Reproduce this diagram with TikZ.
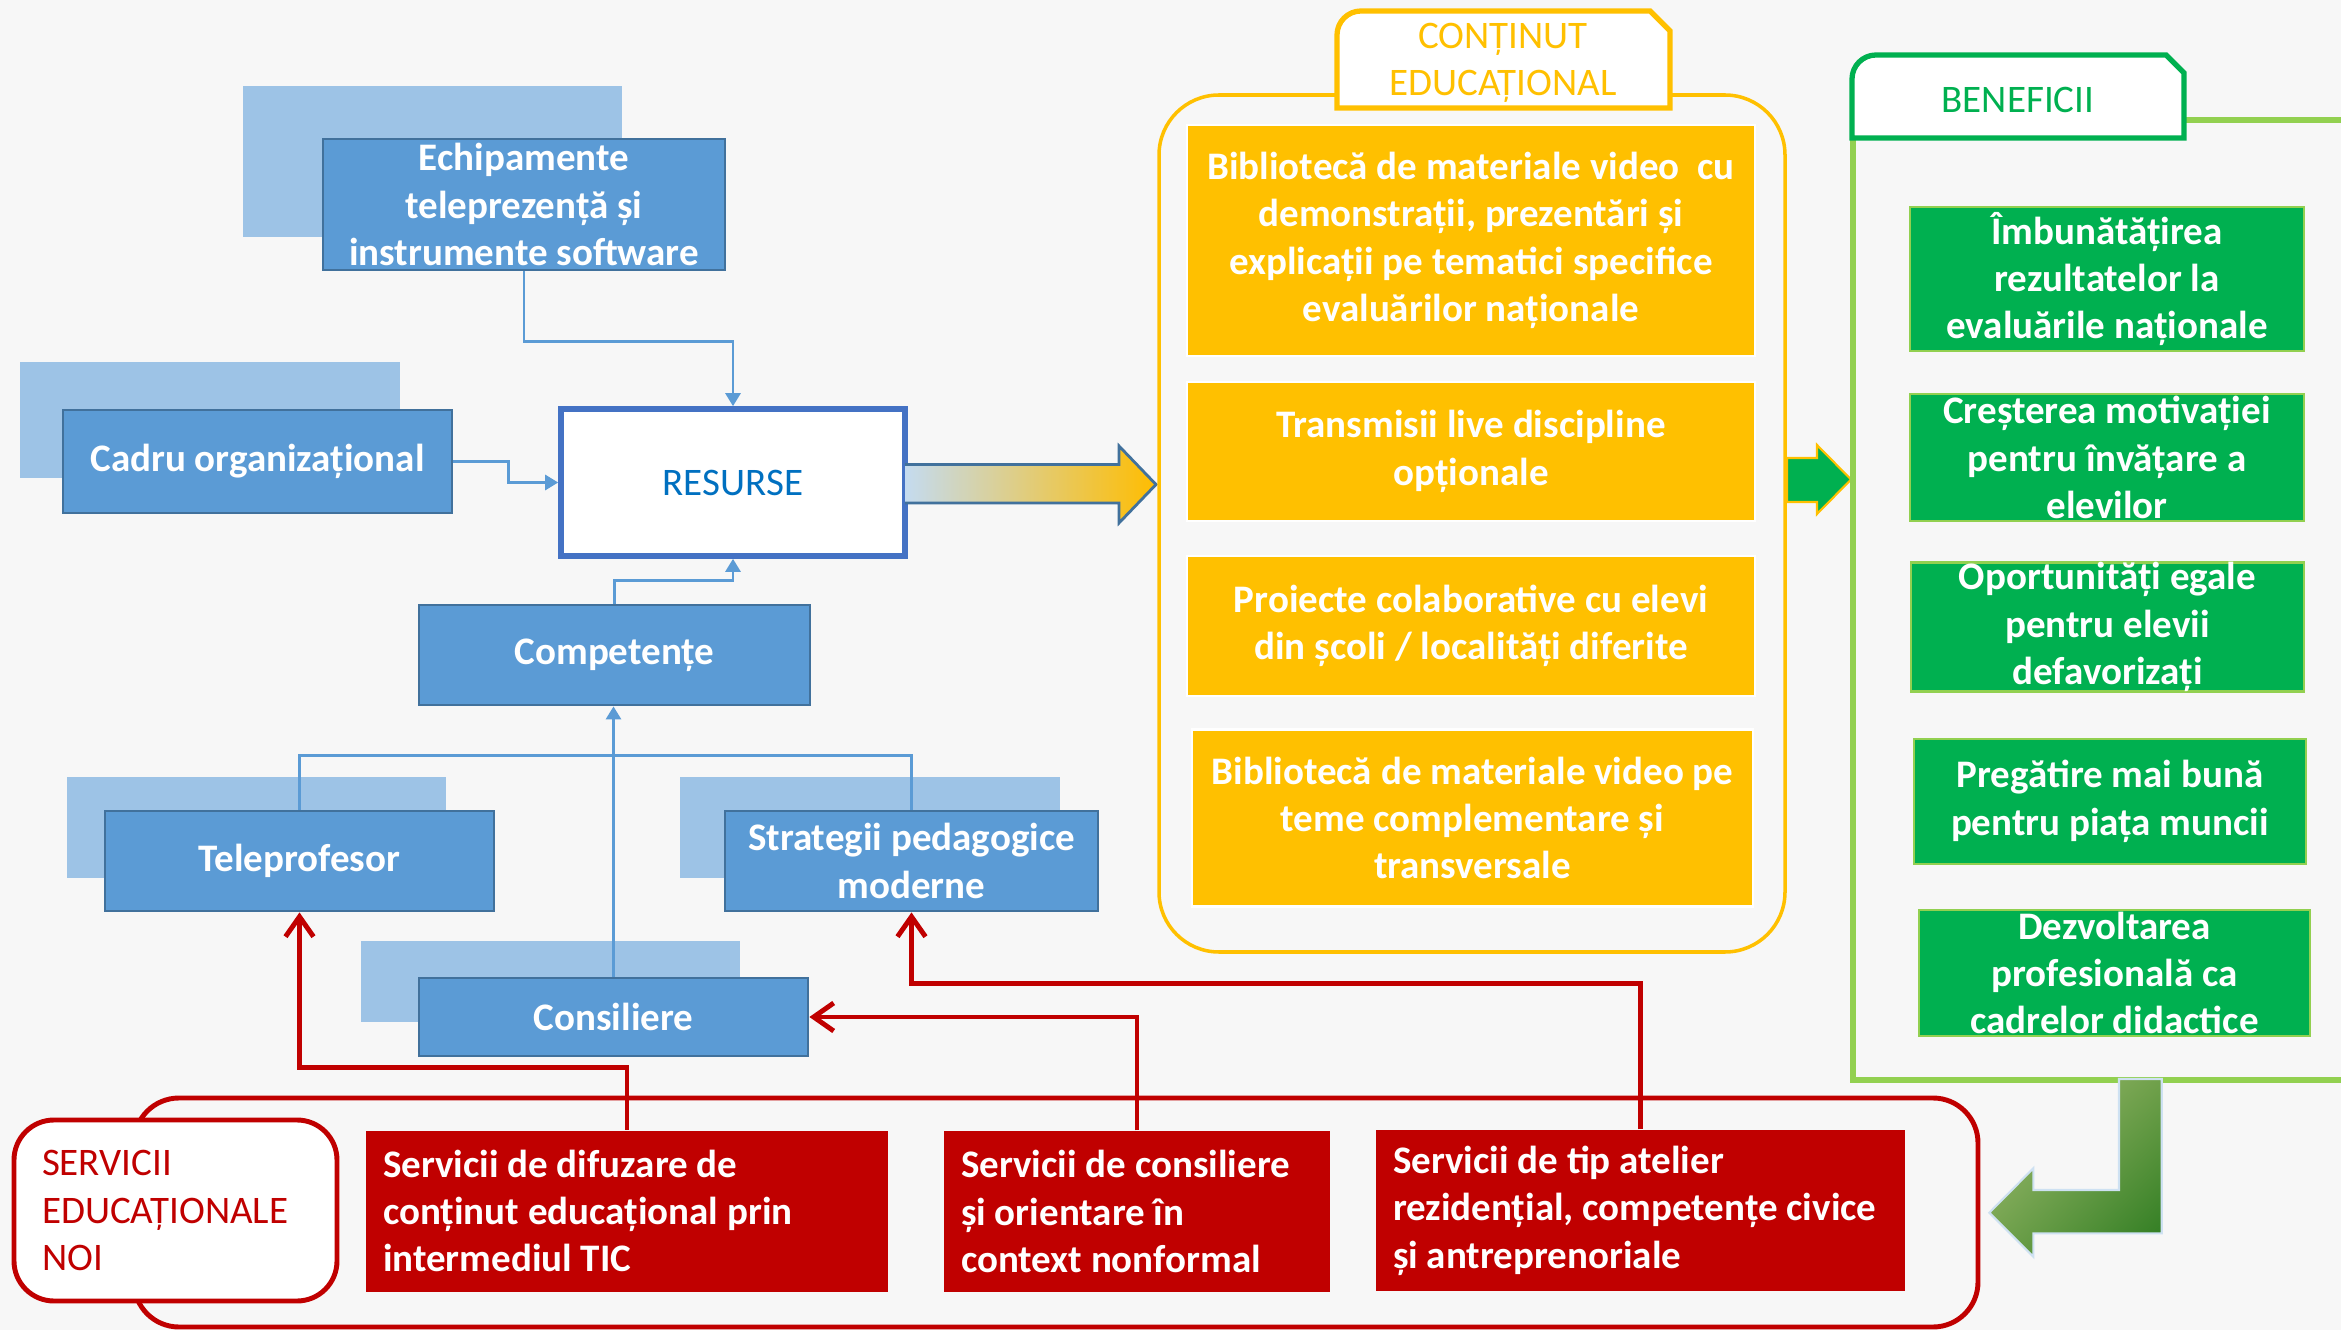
\documentclass[tikz,border=0pt]{standalone}
\usepackage{fontspec}
\setmainfont{Carlito}
\usetikzlibrary{arrows.meta,shadings}

\definecolor{bgcol}{HTML}{F7F7F7}
\definecolor{boxblue}{HTML}{5B9BD5}
\definecolor{boxedge}{HTML}{41719C}
\definecolor{shadowblue}{HTML}{9DC3E6}
\definecolor{resedge}{HTML}{4472C4}
\definecolor{restext}{HTML}{0070C0}
\definecolor{gold}{HTML}{FFC000}
\definecolor{gdark}{HTML}{00B050}
\definecolor{glight}{HTML}{92D050}
\definecolor{redc}{HTML}{C00000}
\definecolor{olivel}{HTML}{A9C27A}
\definecolor{olivem}{HTML}{6FA04A}
\definecolor{olived}{HTML}{2B7A1F}

\newcommand{\boxfont}{\fontsize{11.1}{13.5}\selectfont}

\begin{document}
\begin{tikzpicture}[x=0.1mm, y=-0.1mm,
  blk/.style={fill=boxblue, draw=boxedge, line width=0.8pt, text=white,
    font=\boxfont\bfseries, align=center, inner sep=0pt},
  shadowbox/.style={fill=shadowblue},
  resbox/.style={fill=white, draw=resedge, line width=1.6pt, text=restext,
    font=\boxfont, inner sep=0pt},
  obox/.style={fill=gold, draw=white, line width=0.6pt, text=white,
    font=\boxfont\bfseries, align=center, inner sep=0pt},
  gbox/.style={fill=gdark, draw=glight, line width=0.8pt, text=white,
    font=\boxfont\bfseries, align=center, inner sep=0pt},
  rbox/.style={fill=redc, text=white, font=\boxfont\bfseries, align=flush left,
    inner xsep=1.7mm, inner ysep=0pt},
  blink/.style={draw=boxblue, line width=0.8pt},
  barrow/.style={blink, -{Triangle[length=1.3mm,width=1.5mm]}},
  rarrow/.style={draw=redc, line width=1.4pt,
    -{Straight Barb[length=2mm,width=2.8mm]}},
  tabbox/.style={fill=white, line width=1.5pt, font=\boxfont, align=center}]

\useasboundingbox (0,0) rectangle (2341,1330);
\fill[bgcol] (0,0) rectangle (2341,1330);

% Schatten
\fill[shadowbox] (243,86) rectangle (622,237);
\fill[shadowbox] (20,362) rectangle (400,478);
\fill[shadowbox] (67,777) rectangle (446,878);
\fill[shadowbox] (680,777) rectangle (1060,878);
\fill[shadowbox] (361,941) rectangle (740,1022);

% Resurse
\node[blk, minimum width=40.2mm, minimum height=13.1mm] (echip) at (524,204.5)
  {Echipamente\\teleprezență și\\instrumente software};
\node[blk, minimum width=38.9mm, minimum height=10.3mm] (cadru) at (257.5,461.5)
  {Cadru organizațional};
\node[resbox, minimum width=34.4mm, minimum height=14.7mm] (res) at (733,482.5)
  {RESURSE};
\node[blk, minimum width=39.1mm, minimum height=10mm] (comp) at (614.5,655)
  {Competențe};
\node[blk, minimum width=38.9mm, minimum height=10mm] (telep) at (299.5,861)
  {Teleprofesor};
\node[blk, minimum width=37.3mm, minimum height=10mm] (strat) at (911.5,861)
  {Strategii pedagogice\\moderne};
\node[blk, minimum width=38.9mm, minimum height=7.8mm] (consil) at (613.5,1017)
  {Consiliere};

\draw[barrow] (echip.south) -- ++(0,70) -| (res.north);
\draw[barrow] (cadru.east) -- ++(55,0) |- (res.west);
\draw[barrow] (comp.north) -- ++(0,-23) -| (res.south);
\draw[blink] (telep.north) -- ++(0,-54) -| (strat.north);
\draw[barrow] (consil.north) -- (consil.north |- comp.south);

% Pfeil zum Inhalt
\shade[left color=shadowblue!60, middle color=shadowblue!80, right color=gold!95!orange]
  (905,464.5) -- (1119,464.5) -- (1119,446) -- (1156,484.5) -- (1119,523)
  -- (1119,503) -- (905,503) -- cycle;
\draw[boxedge, line width=0.8pt]
  (905,464.5) -- (1119,464.5) -- (1119,446) -- (1156,484.5) -- (1119,523)
  -- (1119,503) -- (905,503);

% Continut educational
\draw[gold, line width=1pt, rounded corners=6mm] (1159,95) rectangle (1785,952);
\draw[tabbox, draw=gold] (1337,108) [rounded corners=2.4mm] -- (1337,11)
  [sharp corners] -- (1650,11) -- (1670,31) -- (1670,108) -- cycle;
\node[text=gold, font=\boxfont, align=center] (tabc) at (1503,63)
  {CONȚINUT\\EDUCAȚIONAL};

\node[obox, minimum width=56.8mm, minimum height=23.1mm] (ob1) at (1471,240.5)
  {Bibliotecă de materiale video~ cu\\demonstrații, prezentări și\\explicații pe tematici specifice\\evaluărilor naționale};
\node[obox, minimum width=56.8mm, minimum height=13.9mm] (ob2) at (1471,451.5)
  {Transmisii live discipline\\opționale};
\node[obox, minimum width=56.8mm, minimum height=14mm] (ob3) at (1471,626)
  {Proiecte colaborative cu elevi\\din școli / localități diferite};
\node[obox, minimum width=56.1mm, minimum height=17.7mm] (ob4) at (1472.5,818)
  {Bibliotecă de materiale video pe\\teme complementare și\\transversale};

% kleiner Pfeil
\filldraw[fill=gdark, draw=gold, line width=0.6pt]
  (1787,458) -- (1817,458) -- (1817,445) -- (1851,479.5) -- (1817,514)
  -- (1817,502) -- (1787,502) -- cycle;

% Beneficii
\draw[glight, line width=1.5pt] (2184,120) -- (2341,120);
\draw[glight, line width=1.5pt] (1853,138) -- (1853,1080) -- (2341,1080);
\draw[tabbox, draw=gdark] (1852,138) [rounded corners=2.4mm] -- (1852,55)
  [sharp corners] -- (2166,55) -- (2184,73) -- (2184,138) -- cycle;
\node[text=gdark, font=\boxfont] (tabb) at (2018,100) {BENEFICII};

\node[gbox, minimum width=39.4mm, minimum height=14.4mm] (g1) at (2107,279)
  {Îmbunătățirea\\rezultatelor la\\evaluările naționale};
\node[gbox, minimum width=39.4mm, minimum height=12.7mm] (g2) at (2107,457.5)
  {Creșterea motivației\\pentru învățare a\\elevilor};
\node[gbox, minimum width=39.3mm, minimum height=12.6mm] (g3) at (2107.5,627)
  {Oportunități egale\\pentru elevii\\defavorizați};
\node[gbox, minimum width=39.2mm, minimum height=12.5mm] (g4) at (2110,801.5)
  {Pregătire mai bună\\pentru piața muncii};
\node[gbox, minimum width=39.1mm, minimum height=12.6mm] (g5) at (2114.5,973)
  {Dezvoltarea\\profesională ca\\cadrelor didactice};

% Rueckpfeil
\shadedraw[upper left=olivel, upper right=olivem, lower left=olivem,
  lower right=olived, draw=shadowblue!50!white, line width=0.6pt]
  (2119,1079) -- (2161.7,1079) -- (2161.7,1233.3) -- (2033.3,1233.3)
  -- (2033.3,1256.7) -- (1989.3,1212.7) -- (2033.3,1168.3) -- (2033.3,1190)
  -- (2119,1190) -- cycle;

% Servicii
\draw[redc, line width=1.4pt, rounded corners=4.5mm] (134,1098) rectangle (1978,1327);
\node[fill=white, draw=redc, line width=1.4pt, rounded corners=4mm, text=redc,
  font=\boxfont, align=flush left, text width=26.7mm, inner xsep=2.8mm,
  minimum height=18.1mm] (serv) at (175.5,1210.5)
  {SERVICII\\EDUCAȚIONALE\\NOI};
\node[rbox, text width=48.8mm, minimum height=16.1mm] (dif) at (627,1211)
  {Servicii de difuzare de\\conținut educațional prin\\intermediul TIC};
\node[rbox, text width=35.2mm, minimum height=16.1mm] (cons) at (1137,1211.5)
  {Servicii de consiliere\\și orientare în\\context nonformal};
\node[rbox, text width=49.5mm, minimum height=16.1mm] (atel) at (1640.5,1210.5)
  {Servicii de tip atelier\\rezidențial, competențe civice\\și antreprenoriale};

\draw[rarrow] (dif.north) -- ++(0,-62) -| (telep.south);
\draw[rarrow] (cons.north) |- (consil.east);
\draw[rarrow] (atel.north) -- ++(0,-146) -| (strat.south);

\end{tikzpicture}
\end{document}
